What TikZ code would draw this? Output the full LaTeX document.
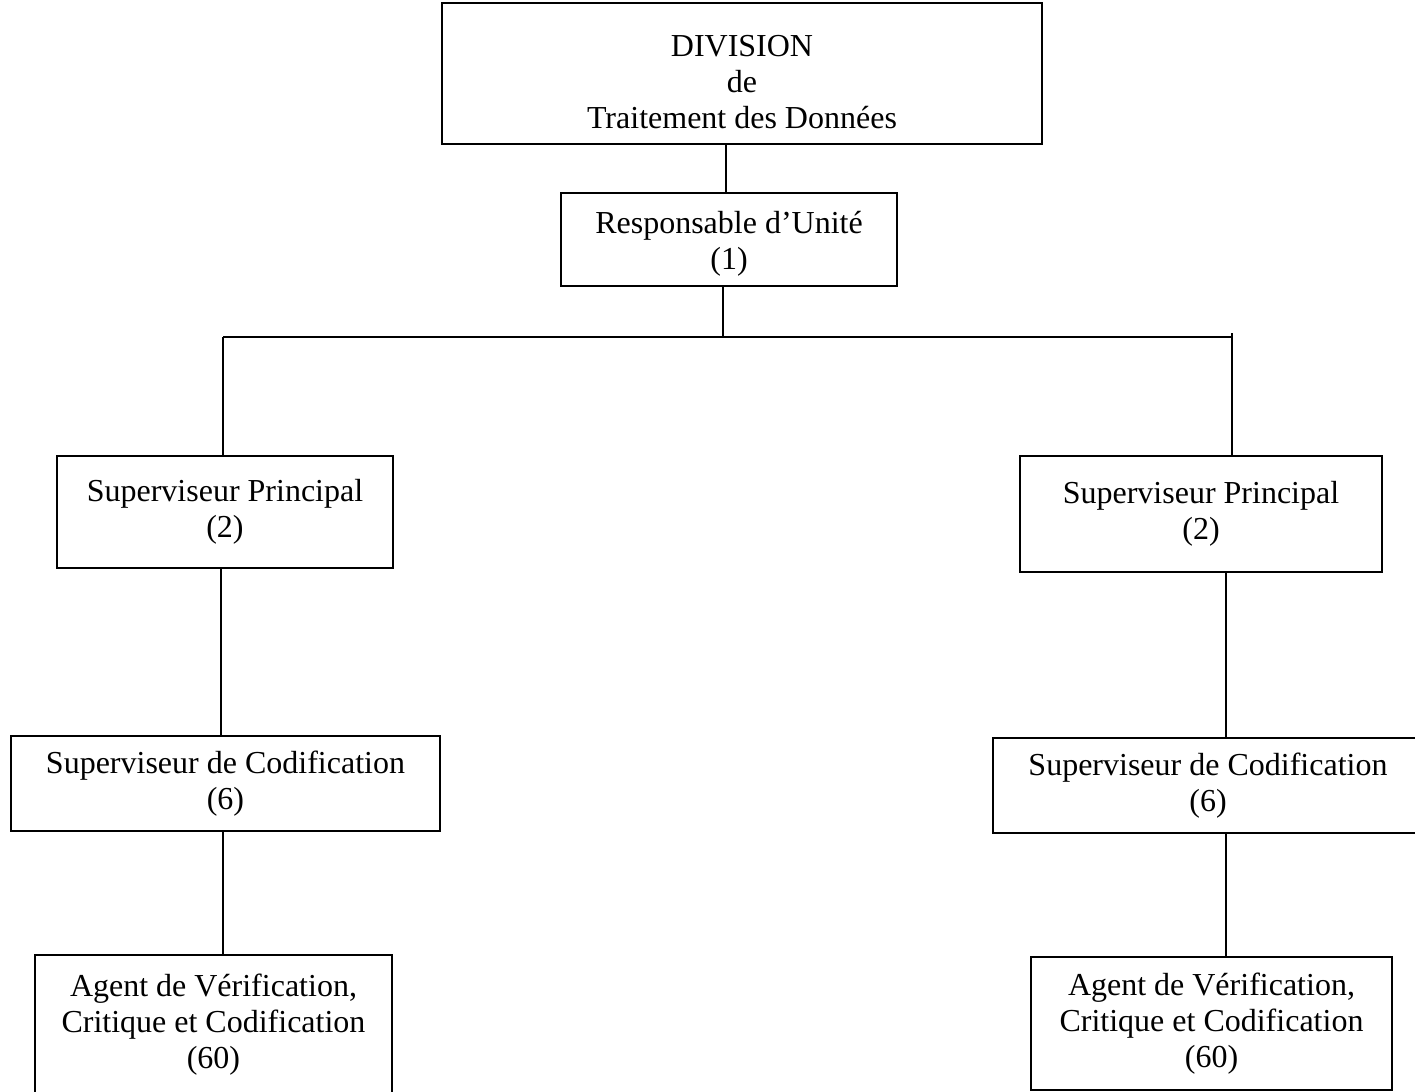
\documentclass[tikz,border=0pt]{standalone}
\usepackage{fontspec}
\setmainfont{Liberation Serif}
\tikzset{
    poste/.style={draw,line width=.8pt,align=center,inner sep=0pt,
        font=\fontsize{16}{18}\selectfont},
    lien/.style={line width=.7pt}
}
\begin{document}
\begin{tikzpicture}[x=.5pt,y=-.5pt]
                \useasboundingbox (0,0) rectangle (1415,1092);
                \node[poste,minimum width=300pt,minimum height=70.5pt] (div) at (742,73.5) {\rule{0pt}{19pt}DIVISION\\de\\Traitement des Donn\'ees};
                \node[poste,minimum width=168pt,minimum height=46.5pt] (resp) at (729,239.5) {\rule{0pt}{15pt}Responsable d'Unit\'e\\(1)};
                \node[poste,minimum width=168pt,minimum height=56pt] (spl) at (225,512) {Superviseur Principal\\(2)};
                \node[poste,minimum width=181pt,minimum height=58pt] (spr) at (1201,514) {Superviseur Principal\\(2)};
                \node[poste,minimum width=214.5pt,minimum height=47.5pt] (scl) at (225.5,783.5) {Superviseur de Codification\\(6)};
                \node[poste,minimum width=215pt,minimum height=47.5pt] (scr) at (1208,785.5) {Superviseur de Codification\\(6)};
                \node[poste,minimum width=178.5pt,minimum height=70pt] (agl) at (213.5,1025) {Agent de V\'erification,\\Critique et Codification\\(60)};
                \node[poste,minimum width=180.5pt,minimum height=66.5pt] (agr) at (1211.5,1023.5) {Agent de V\'erification,\\Critique et Codification\\(60)};
                % points de passage des traits
                \coordinate (haut) at (726,0);
                \coordinate (milieu) at (723,0);
                \coordinate (busL) at (223,337);
                \coordinate (busR) at (1232,337);
                \coordinate (brL) at (221,0);
                \coordinate (brR) at (1226,0);
                \draw[lien] (haut |- resp.north) -- (haut |- div.south);
                \draw[lien] (milieu |- resp.south) -- (milieu |- busL);
                \draw[line width=1pt] (busL) -- (busR);
                \draw[lien] (busL) -- (busL |- spl.north);
                \draw[lien] ([yshift=2pt]busR) -- (busR |- spr.north);
                \draw[lien] (brL |- spl.south) -- (brL |- scl.north);
                \draw[lien] (brR |- spr.south) -- (brR |- scr.north);
                \draw[lien] (busL |- scl.south) -- (busL |- agl.north);
                \draw[lien] (brR |- scr.south) -- (brR |- agr.north);
            \end{tikzpicture}
\end{document}
